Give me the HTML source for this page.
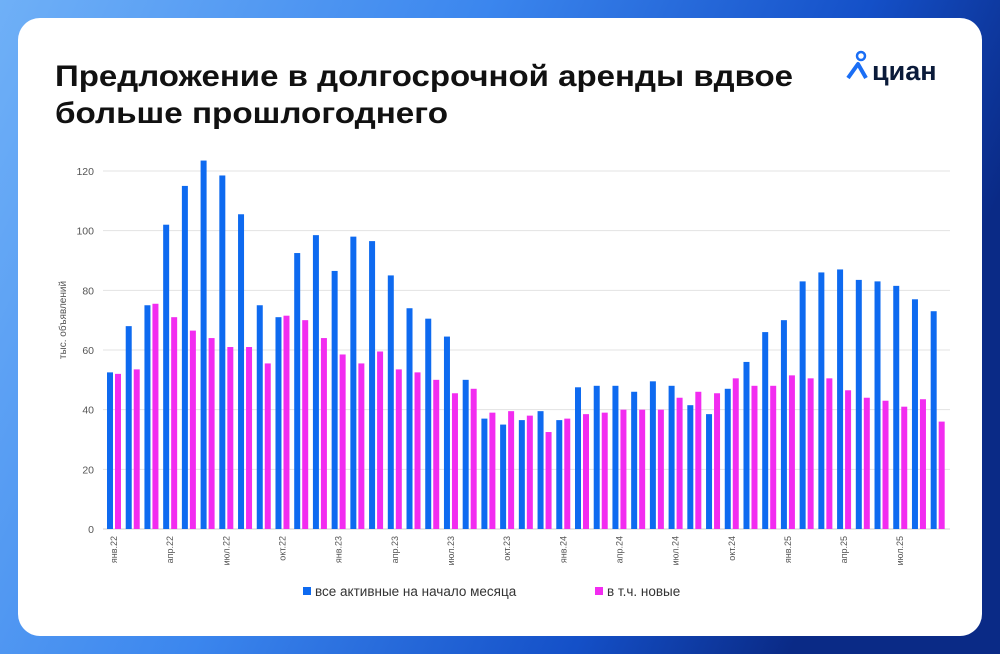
<!DOCTYPE html>
<html><head><meta charset="utf-8"><style>
html,body{margin:0;padding:0;width:1000px;height:654px;overflow:hidden;}
svg{display:block;font-family:"Liberation Sans","Noto Sans CJK SC",sans-serif;}
</style></head><body>
<svg id="chart" width="1000" height="654" viewBox="0 0 1000 654">
<defs>
<linearGradient id="bg" x1="0" y1="0" x2="1" y2="0.3">
<stop offset="0" stop-color="#6fb0f7"/><stop offset="0.45" stop-color="#3b86ee"/><stop offset="0.8" stop-color="#1450c8"/><stop offset="1" stop-color="#0a2a86"/>
</linearGradient>
</defs>
<rect x="0" y="0" width="1000" height="654" fill="url(#bg)"/>
<rect x="18" y="18" width="964" height="618" rx="22" fill="#ffffff"/>
<text x="55" y="86" font-size="30" font-weight="bold" fill="#111" textLength="738" lengthAdjust="spacingAndGlyphs">Предложение в долгосрочной аренды вдвое</text>
<text x="55" y="123" font-size="30" font-weight="bold" fill="#111" textLength="393" lengthAdjust="spacingAndGlyphs">больше прошлогоднего</text>
<g>
<circle cx="861" cy="56" r="4" fill="none" stroke="#1a6ef5" stroke-width="2.5"/>
<path d="M848 78 L858 64 L866 78" fill="none" stroke="#1a6ef5" stroke-width="4" stroke-linejoin="round"/>
<text x="872" y="80" font-size="27" font-weight="bold" fill="#0b1b3a">циан</text>
</g>
<text transform="translate(66,320) rotate(-90)" text-anchor="middle" font-size="10" fill="#555">тыс. объявлений</text>
<g id="grid"></g><g id="bars"></g><g id="xlabels"></g>
<g>
<rect x="303" y="587" width="8" height="8" fill="#0e6af0"/>
<text x="315" y="596" font-size="13.5" fill="#333">все активные на начало месяца</text>
<rect x="595" y="587" width="8" height="8" fill="#f22cf0"/>
<text x="607" y="596" font-size="13.5" fill="#333">в т.ч. новые</text>
</g>
</svg>
<script>
const activeVals=[52.5,68,75,102,115,123.5,118.5,105.5,75,71,92.5,98.5,86.5,98,96.5,85,74,70.5,64.5,50,37,35,36.5,39.5,36.5,47.5,48,48,46,49.5,48,41.5,38.5,47,56,66,70,83,86,87,83.5,83,81.5,77,73];
const newVals=[52,53.5,75.5,71,66.5,64,61,61,55.5,71.5,70,64,58.5,55.5,59.5,53.5,52.5,50,45.5,47,39,39.5,38,32.5,37,38.5,39,40,40,40,44,46,45.5,50.5,48,48,51.5,50.5,50.5,46.5,44,43,41,43.5,36];
const monthNames=["янв","фев","мар","апр","май","июн","июл","авг","сен","окт","ноя","дек"];
const yTicks=[0,20,40,60,80,100,120];
const NS="http://www.w3.org/2000/svg";
const y0=529, pxPerUnit=(529-171)/120, x0=114, step=18.72, bw=6;
const yS=v=>y0-v*pxPerUnit;
const xS=i=>x0+i*step;
const grid=document.getElementById('grid'),bars=document.getElementById('bars'),xl=document.getElementById('xlabels');
function mk(t,a){const e=document.createElementNS(NS,t);for(const k in a)e.setAttribute(k,a[k]);return e;}
yTicks.forEach(v=>{
 const l=mk('line',{x1:103,x2:950,y1:yS(v),y2:yS(v),stroke:v===0?'#cfcfcf':'#e3e3e3','stroke-width':1});
 
 
 grid.appendChild(l);
 const t=mk('text',{x:94,y:yS(v)+4,'text-anchor':'end','font-size':10.5,fill:'#555'});
 t.textContent=v;
 
 
 grid.appendChild(t);
});
activeVals.forEach((v,i)=>{
 const r=mk('rect',{x:xS(i)-bw-1,y:yS(v),width:bw,height:y0-yS(v),fill:'#0e6af0'});
 
 
 bars.appendChild(r);
});
newVals.forEach((v,i)=>{
 const r=mk('rect',{x:xS(i)+1,y:yS(v),width:bw,height:y0-yS(v),fill:'#f22cf0'});
 
 
 bars.appendChild(r);
});
activeVals.forEach((v,i)=>{
 if(i%3!==0)return;
 const lab=monthNames[i%12]+'.'+(22+Math.floor(i/12));
 const t=mk('text',{transform:`translate(${xS(i)+3},536) rotate(-90)`,'text-anchor':'end','font-size':9,fill:'#555'});
 t.textContent=lab;
 
 
 xl.appendChild(t);
});
</script>
</body></html>
